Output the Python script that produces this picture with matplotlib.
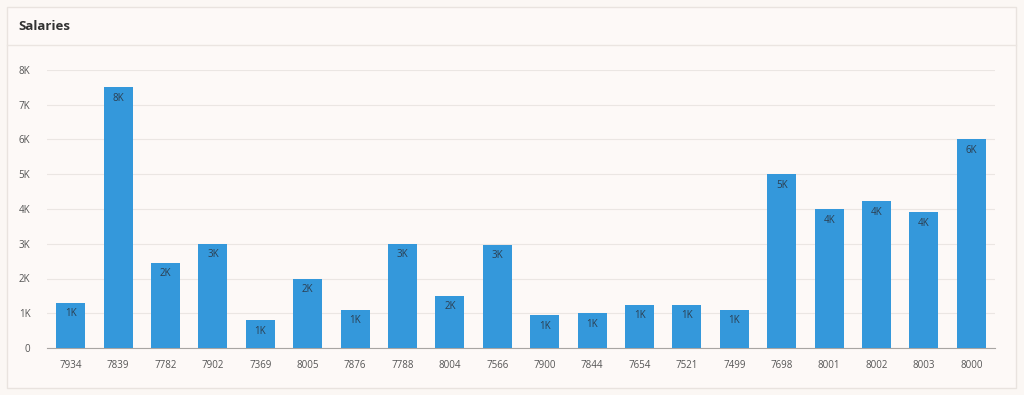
import matplotlib
matplotlib.use("Agg")
import matplotlib.pyplot as plt
from matplotlib.patches import Rectangle
from matplotlib.lines import Line2D

plt.rcParams['font.family'] = ['Open Sans', 'DejaVu Sans']

categories = ["7934", "7839", "7782", "7902", "7369", "8005", "7876", "7788", "8004", "7566",
              "7900", "7844", "7654", "7521", "7499", "7698", "8001", "8002", "8003", "8000"]
salaries = [1300, 7500, 2450, 3000, 800, 2000, 1100, 3000, 1500, 2975,
            950, 1000, 1250, 1250, 1100, 5000, 4000, 4230, 3900, 6000]
yticks = [0, 1000, 2000, 3000, 4000, 5000, 6000, 7000, 8000]
ytick_labels = ["0", "1K", "2K", "3K", "4K", "5K", "6K", "7K", "8K"]
title = "Salaries"

W, H = 1024, 395
fig = plt.figure(figsize=(W / 100, H / 100), dpi=100)
fig.patch.set_facecolor("#fbf7f4")

# panel
fig.patches.append(Rectangle((7 / W, 1 - 388 / H), (1016 - 7) / W, (388 - 7) / H,
                             transform=fig.transFigure, facecolor="#fdf9f7",
                             edgecolor="#e9e3df", linewidth=1.0, zorder=-5))
fig.lines.append(Line2D([7 / W, 1016 / W], [1 - 45 / H, 1 - 45 / H],
                        transform=fig.transFigure, color="#ebe5e1", linewidth=1.0, zorder=-4))
fig.text(18 / W, 1 - 26 / H, title, fontsize=9.5, fontweight="bold",
         color="#333333", va="center", ha="left")

ax = fig.add_axes([47 / W, 47 / H, (995 - 47) / W, (348 - 70) / H])
ax.set_facecolor("none")
x = list(range(len(categories)))
ax.bar(x, salaries, width=0.61, color="#3498db", zorder=3)
ax.set_xlim(-0.5, len(categories) - 0.5)
ax.set_ylim(0, 8000)
ax.set_yticks(yticks)
ax.set_yticklabels(ytick_labels)
ax.set_xticks(x)
ax.set_xticklabels(categories)
ax.grid(axis="y", color="#ebe6e3", linewidth=0.8, zorder=0)
for s in ["top", "right", "left"]:
    ax.spines[s].set_visible(False)
ax.spines["bottom"].set_color("#a8a5a3")
ax.spines["bottom"].set_linewidth(0.8)
ax.tick_params(axis="both", length=0, labelsize=7, colors="#555555")
ax.tick_params(axis="x", pad=9)
ax.tick_params(axis="y", pad=12)

for xi, v in zip(x, salaries):
    ax.annotate(f"{v / 1000:.0f}K", (xi, v), xytext=(0, -4), textcoords="offset points",
                ha="center", va="top", fontsize=7, color="#2c3e50", zorder=4)

fig.savefig("out.png", dpi=100, facecolor=fig.get_facecolor())
